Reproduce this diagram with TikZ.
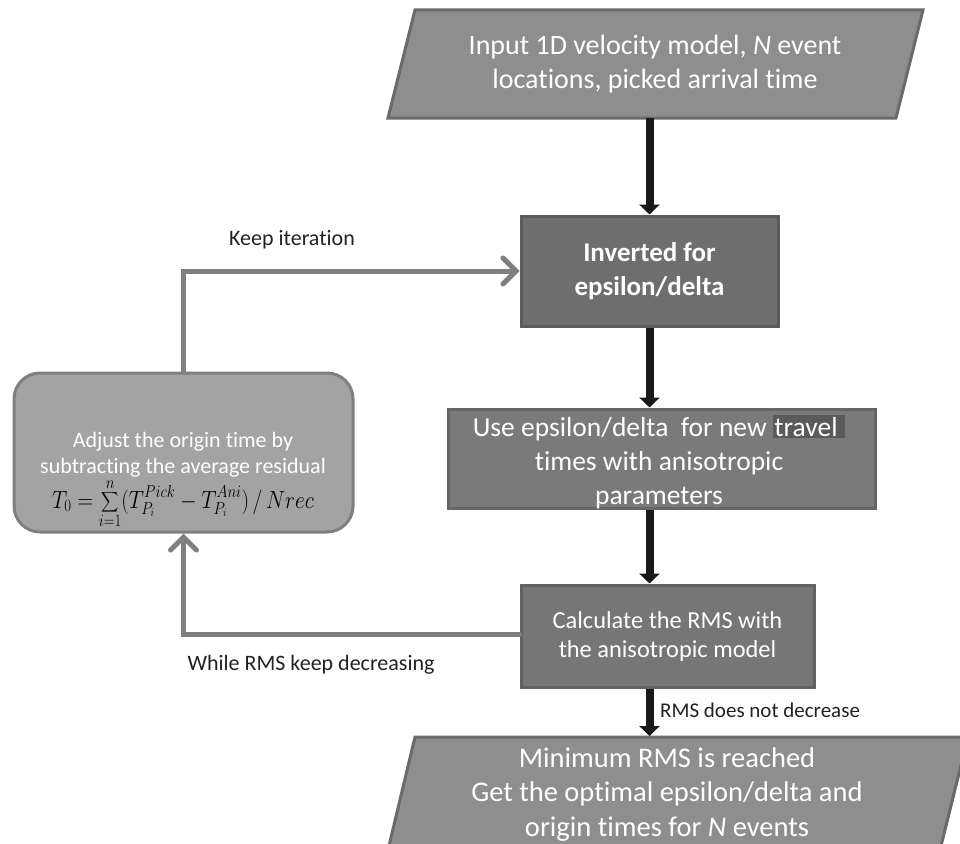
\documentclass[tikz,border=0pt]{standalone}
\usepackage{fontspec}
\usepackage{graphicx}
\setmainfont{Carlito}[Ligatures=NoCommon]
\usetikzlibrary{arrows.meta,calc}
\definecolor{pgfill}{HTML}{8E8E8E}
\definecolor{pgdraw}{HTML}{6A6A6A}
\definecolor{invfill}{HTML}{6E6E6E}
\definecolor{invdraw}{HTML}{5C5C5C}
\definecolor{usefill}{HTML}{7A7A7A}
\definecolor{usedraw}{HTML}{666666}
\definecolor{calcfill}{HTML}{767676}
\definecolor{calcdraw}{HTML}{626262}
\definecolor{adjfill}{HTML}{A3A3A3}
\definecolor{adjdraw}{HTML}{7F7F7F}
\definecolor{loopgray}{HTML}{808080}
\definecolor{hlgray}{HTML}{5A5A5A}
\definecolor{labelgray}{HTML}{222222}
\newcommand{\bigsumsym}{\mathop{\vcenter{\hbox{\scalebox{1.4}{$\displaystyle\sum$}}}}\limits}
\tikzset{
  pgram/.style={fill=pgfill, draw=pgdraw, line width=3pt, line join=miter},
  txt/.style={text=white, align=center, inner sep=0pt},
  procbox/.style={txt, draw, line width=3pt, inner sep=0pt},
  blackarrow/.style={line width=8pt, draw=black!90, -{Triangle[width=20pt,length=10pt]}},
  looparrow/.style={line width=5pt, draw=loopgray, line cap=round, line join=miter,
    -{Straight Barb[width=26pt,length=13pt,line cap=round]}},
  lbl/.style={text=labelgray, inner sep=0pt, font=\fontsize{22}{26}\selectfont}
}
\begin{document}
\begin{tikzpicture}[x=1pt,y=-1pt]
\useasboundingbox (0,0) rectangle (960,843);
\clip (0,0) rectangle (960,843);
% top parallelogram
\draw[pgram] (415,10) -- (923,10) -- (896,118) -- (388,118) -- cycle;
\node[txt, minimum height=108pt, minimum width=480pt, font=\fontsize{28}{34}\selectfont] (input) at (655,64)
  {Input 1D velocity model, \textit{N} event\\locations, picked arrival time};
% inverted box
\node[procbox, fill=invfill, draw=invdraw, minimum width=257pt, minimum height=110pt,
  font=\bfseries\fontsize{27}{34}\selectfont] (inv) at (649.5,271) {Inverted for\\epsilon/delta};
% use box
\node[procbox, fill=usefill, draw=usedraw, minimum width=427pt, minimum height=99pt] (use) at (661.5,458.5) {};
\node[txt, font=\fontsize{27.5}{34}\selectfont] (usetext) at (659,462)
  {Use epsilon/delta\ \ for new {\setlength{\fboxsep}{1.5pt}\colorbox{hlgray}{\textcolor{white}{travel\ }}}\\times with anisotropic\\parameters};
% calculate box
\node[procbox, fill=calcfill, draw=calcdraw, minimum width=293pt, minimum height=102pt,
  font=\fontsize{24.4}{29}\selectfont] (calc) at (667.5,636) {Calculate the RMS with\\the anisotropic model};
% adjust box
\node[txt, fill=adjfill, draw=adjdraw, line width=3pt, rounded corners=26pt,
  minimum width=339pt, minimum height=159pt] (adj) at (183.5,452.5) {};
\node[txt, font=\fontsize{22}{26}\selectfont, anchor=north] (adjtext) at (183,432)
  {Adjust the origin time by\\subtracting the average residual\\[2pt]
   \textcolor{black}{\scalebox{0.86}[1]{\fontsize{24}{28}\selectfont$\displaystyle T_0=\bigsumsym_{i=1}^{n}(T_{P_i}^{Pick}-T_{P_i}^{Ani})\,/\,Nrec$}}};
% bottom parallelogram
\draw[pgram] (415,737) -- (968,737) -- (940,850) -- (388,850) -- cycle;
\node[txt, minimum width=480pt, font=\fontsize{28.5}{34.5}\selectfont, anchor=north] (result) at (667,747)
  {Minimum RMS is reached\\Get the optimal epsilon/delta and\\origin times for \textit{N} events};
% main flow arrows
\draw[blackarrow] (inv.north |- input.south) -- (inv.north);
\draw[blackarrow] (inv.south) -- (inv.south |- use.north);
\draw[blackarrow] (inv.south |- use.south) -- (inv.south |- calc.north);
\draw[blackarrow] (inv.south |- calc.south) -- (inv.south |- 0,736) coordinate (resTop);
\node[lbl, anchor=west, font=\fontsize{21}{24}\selectfont] (nodec) at (660,710) {RMS does not decrease};
% loop arrows
\draw[looparrow] (calc.west |- 0,634) -| (adj.south);
\draw[looparrow] (adj.north) |- (inv.west);
\node[lbl] (keep) at (292,240) {Keep iteration};
\node[lbl] (while) at (311,665) {While RMS keep decreasing};
\end{tikzpicture}
\end{document}
